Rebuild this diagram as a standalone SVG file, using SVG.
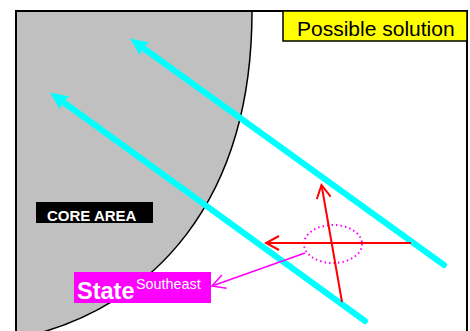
<svg xmlns="http://www.w3.org/2000/svg" width="470" height="331" viewBox="0 0 470 331">
<style>
.lbl{font-family:"Liberation Sans",Arial,sans-serif}
.cyan{stroke:#00FFFF;stroke-width:6;stroke-linecap:round;fill:none}
.red{stroke:#FF0000;stroke-width:2;fill:none}
</style>
<defs>
<marker id="cyanHead" markerUnits="userSpaceOnUse" viewBox="0 0 18 16" markerWidth="18" markerHeight="16" refX="7" refY="8" orient="auto">
<path d="M0,0 L18,8 L0,16 L3,8 z" fill="#00FFFF"/>
</marker>
<marker id="redHead" markerUnits="userSpaceOnUse" viewBox="0 0 16 16" markerWidth="16" markerHeight="16" refX="14" refY="8" orient="auto">
<path d="M1,1 L14,8 L1,15" fill="none" stroke="#FF0000" stroke-width="2"/>
</marker>
<marker id="magHead" markerUnits="userSpaceOnUse" viewBox="0 0 16 16" markerWidth="16" markerHeight="16" refX="14" refY="8" orient="auto">
<path d="M1,1 L14,8 L1,15" fill="none" stroke="#FF00FF" stroke-width="1.5"/>
</marker>
</defs>
<rect x="0" y="0" width="470" height="331" fill="#FFFFFF"/>
<g id="core-region">
<path d="M16,11 L252,11 C252,200 155,308 20,338 L16,338 Z" fill="#C0C0C0"/>
<path d="M252,11 C252,200 155,308 20,338" fill="none" stroke="#000000" stroke-width="1.5"/>
</g>
<g id="frame">
<rect x="16" y="11" width="451" height="330" fill="none" stroke="#000000" stroke-width="2"/>
</g>
<g id="possible-solution">
<rect x="283" y="11" width="184" height="30" fill="#FFFF00" stroke="#000000" stroke-width="1.5"/>
<text class="lbl" x="297" y="36" font-size="21" fill="#000000">Possible solution</text>
</g>
<g id="core-area">
<rect x="36" y="202" width="117" height="21" fill="#000000"/>
<text class="lbl" x="47" y="220.5" font-size="15" font-weight="bold" fill="#FFFFFF">CORE AREA</text>
</g>
<g id="state-southeast">
<rect x="74" y="272" width="137" height="31" fill="#FF00FF"/>
<text class="lbl" x="77" y="298.5" font-size="23.5" font-weight="bold" fill="#FFFFFF">State<tspan font-size="14.4" font-weight="normal" dx="1.5" dy="-10">Southeast</tspan></text>
</g>
<g id="state-ellipse">
<ellipse cx="333" cy="244" rx="29" ry="19" fill="none" stroke="#FF00FF" stroke-width="2" stroke-dasharray="1.5,3"/>
</g>
<g id="connectors">
<line class="cyan" x1="444" y1="265" x2="139" y2="45" marker-end="url(#cyanHead)"/>
<line class="cyan" x1="365" y1="321" x2="59" y2="99" marker-end="url(#cyanHead)"/>
<line class="red" x1="411" y1="243" x2="266" y2="243" marker-end="url(#redHead)"/>
<line class="red" x1="342" y1="302" x2="321.5" y2="185" marker-end="url(#redHead)"/>
<line x1="305" y1="253" x2="212" y2="286" stroke="#FF00FF" stroke-width="1.5" marker-end="url(#magHead)"/>
</g>
</svg>
